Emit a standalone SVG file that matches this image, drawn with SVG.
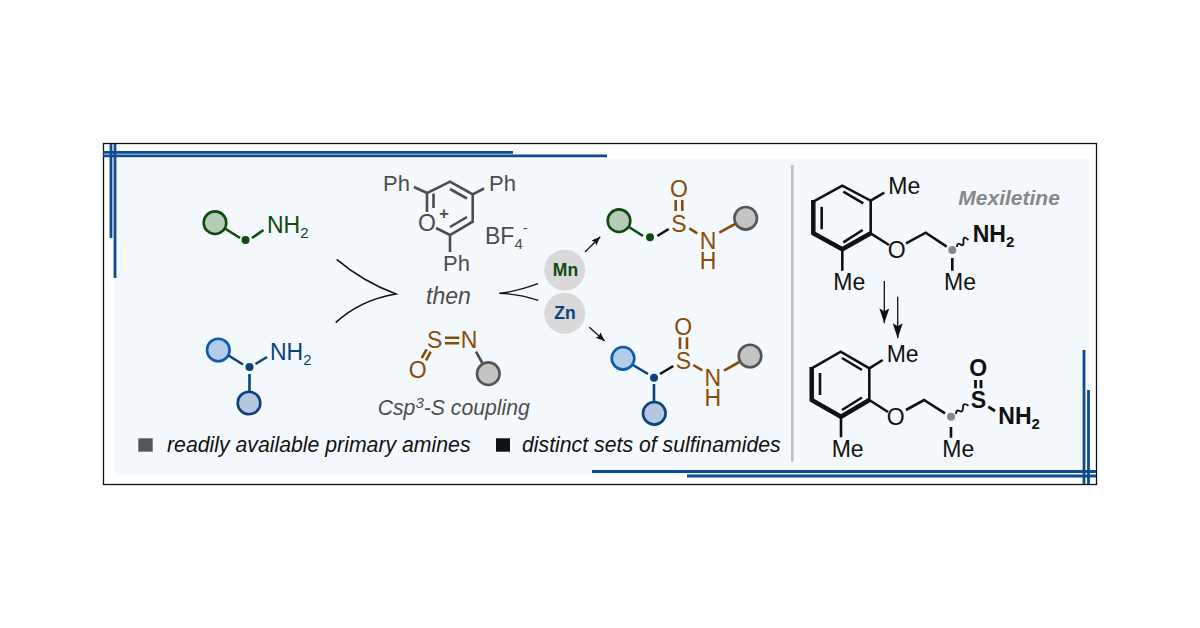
<svg xmlns="http://www.w3.org/2000/svg" width="1200" height="628" viewBox="0 0 1200 628">
<style>
text{font-family:"Liberation Sans",Arial,sans-serif;font-size:23px}
.b{fill:none;stroke-linecap:butt;stroke-width:2.600}
.g{stroke:#0f4a0f}.u{stroke:#0b417f}.r{stroke:#8a4b08}.k{stroke:#111}.y{stroke:#4d4d4d}
.tg{fill:#0f4a0f}.tu{fill:#0b417f}.tr{fill:#8a4b08}.tk{fill:#111}.ty{fill:#4d4d4d}
.m{text-anchor:middle}
.cg{fill:#b5cbb5;stroke:#0f4a0f;stroke-width:2.600}
.cb{fill:#b3cde9;stroke:#0b5cab;stroke-width:2.600}
.cu{fill:#b5c8de;stroke:#0b417f;stroke-width:2.600}
.cy{fill:#c4c4c4;stroke:#555;stroke-width:2.600}
.rule{stroke:#0f4a94;stroke-width:2.800;fill:none}
.sub{font-size:15px}
.bd{font-weight:bold}
.it{font-style:italic}
.bond{fill:none;stroke:#111;stroke-width:2.600}
.conn{fill:none;stroke:#111}
</style>
<defs>
<marker id="ah" markerUnits="userSpaceOnUse" markerWidth="14" markerHeight="12" refX="15" refY="5" orient="auto"><path d="M0 0L15 5L0 10L3 5Z" fill="#111"/></marker>
<marker id="ahs" markerUnits="userSpaceOnUse" markerWidth="10" markerHeight="8" refX="9" refY="3.500" orient="auto"><path d="M0 0L9 3.500L0 7L1.500 3.500Z" fill="#111"/></marker>
</defs>
<rect width="1200" height="628" fill="#fff"/>
<rect x="114" y="159" width="975" height="316" fill="#f4f9fe"/>
<rect x="103.500" y="143.500" width="993" height="341" fill="none" stroke="#111" stroke-width="1.300"/>
<g id="rules">
<path class="rule" d="M103 152.300H513M103 155.800H607M111 144V238M115 144V278M592 471.500H1096M687 476H1096M1084 350V484M1088.500 390V484"/>
<path d="M792.300 165V461.700" stroke="#bdbdbd" stroke-width="2.500" fill="none"/>
</g>
<g id="amine-green">
<circle class="cg" cx="215" cy="222.700" r="11.300"/>
<path class="b g" d="M225 228.500L240 238M252 238L263.500 230"/>
<circle cx="245.500" cy="240" r="4" fill="#0f4a0f"/>
<text class="tg" x="267" y="232.500">NH<tspan class="sub" dy="5">2</tspan></text>
</g>
<g id="amine-blue">
<circle class="cb" cx="218.300" cy="350" r="11.300"/>
<circle class="cu" cx="249" cy="403" r="11.300"/>
<path class="b u" d="M228.500 355.500L243 364.500M255.500 364L267 357M249.500 374V392"/>
<circle cx="249.500" cy="367" r="4" fill="#0b417f"/>
<text class="tu" x="270" y="359.500">NH<tspan class="sub" dy="5">2</tspan></text>
</g>
<g id="pyrylium">
<path class="b y" d="M427 212V193L450 181.700L472.700 194.300V221.700L450 235L436 228M433.500 208V193.500M450 189L467 198.500M467 217L450 227M427 193L414 187M472.700 194.300L484 188.500M450 235V252"/>
<text class="ty m" x="427" y="231">O</text>
<text class="ty m bd" x="444" y="219" style="font-size:17px">+</text>
<text class="ty" x="383" y="191" style="font-size:22px">Ph</text>
<text class="ty" x="489" y="191" style="font-size:22px">Ph</text>
<text class="ty" x="443" y="270.500" style="font-size:22px">Ph</text>
<text class="ty" x="485" y="244">BF<tspan class="sub" dy="5">4</tspan><tspan class="sub" dy="-16">-</tspan></text>
</g>
<text class="ty it" x="426" y="304">then</text>
<g id="sulfinylamine">
<path class="b r" d="M445 337.700H459.300M445 343.300H459.300M421.700 358L426.700 349.300M426 360.500L430.700 351.700"/>
<path class="b y" d="M476 351.700L482.300 363"/>
<circle class="cy" cx="488.300" cy="373.700" r="11.300"/>
<text class="tr m" x="434.700" y="348">S</text>
<text class="tr m" x="469" y="348">N</text>
<text class="tr m" x="417.700" y="377.700">O</text>
</g>
<text class="ty it" x="377.700" y="415" style="font-size:21.200px">Csp<tspan class="sub" dy="-7">3</tspan><tspan dy="7">-S coupling</tspan></text>
<g id="mn"><circle cx="564.700" cy="270" r="20.500" fill="#d9d9d9"/><text class="tg m bd" x="565.500" y="276" style="font-size:17.500px">Mn</text></g>
<g id="zn"><circle cx="564.700" cy="313.300" r="20.500" fill="#d9d9d9"/><text class="tu m bd" x="565" y="319" style="font-size:17.500px">Zn</text></g>
<g id="connectors">
<path class="conn" stroke-width="1.600" d="M336.700 259.300Q362 281 396 294Q360 300 335.700 322.700"/>
<path class="conn" stroke-width="1.400" d="M538 283.700Q515 292 499.300 293.300Q518 294 538.300 300.300"/>
<path class="conn" stroke-width="1.300" marker-end="url(#ahs)" d="M585 252L600.300 236.700"/>
<path class="conn" stroke-width="1.300" marker-end="url(#ahs)" d="M589.300 327.300L604.700 341"/>
<path class="conn" stroke-width="1.300" marker-end="url(#ah)" d="M884.300 281V323.300"/>
<path class="conn" stroke-width="1.300" marker-end="url(#ah)" d="M897.700 296.700V338.300"/>
</g>
<g id="product-green">
<circle class="cg" cx="619" cy="220.700" r="11.300"/>
<circle class="cy" cx="745.700" cy="218.300" r="11.300"/>
<path class="b g" d="M629 227L643 236"/>
<circle cx="650" cy="237.300" r="4" fill="#0f4a0f"/>
<path class="b k" d="M657.300 236L668.700 229"/>
<path class="b r" d="M675.700 200V211M682.300 200V211M689.300 228.300L697.300 233.300M719.300 232.700L735 224"/>
<text class="tr m" x="679" y="231.500">S</text>
<text class="tr m" x="679" y="197">O</text>
<text class="tr m"><tspan x="708" y="248.500">N</tspan><tspan x="708" y="268.500">H</tspan></text>
</g>
<g id="product-blue">
<circle class="cb" cx="623" cy="358.300" r="11.300"/>
<circle class="cu" cx="654.300" cy="413.300" r="11.300"/>
<circle class="cy" cx="750" cy="356" r="11.300"/>
<path class="b u" d="M633 365L648 374M654 384V402"/>
<circle cx="654" cy="377.700" r="4" fill="#0b417f"/>
<path class="b k" d="M660 374L673.300 366"/>
<path class="b r" d="M680 337.300V349M687 337.300V349M693.300 365L702.300 370.300M724 370.700L739.300 362"/>
<text class="tr m" x="683.300" y="369">S</text>
<text class="tr m" x="683.300" y="334.500">O</text>
<text class="tr m"><tspan x="712.700" y="385.700">N</tspan><tspan x="712.700" y="405.700">H</tspan></text>
</g>
<g id="legend">
<rect x="138.300" y="438.300" width="14.400" height="13.400" fill="#555"/>
<text class="tk it" x="167" y="451.700" style="font-size:21.250px">readily available primary amines</text>
<rect x="496" y="438.300" width="14" height="13.400" fill="#111"/>
<text class="tk it" x="522" y="451.700" style="font-size:21.250px">distinct sets of sulfinamides</text>
</g>
<text class="it bd" x="958.300" y="205" fill="#888" style="font-size:21px">Mexiletine</text>
<g id="mexiletine">
<path class="bond" d="M813.300 201.700L842.300 185.700L870.700 200.700V233.300M870.700 200.700L884.300 192.700M821.700 206.700V229.300M843.300 191.700L863.300 203.300M843.300 242.300L862.700 230M842.300 249.300V270.700M870.700 233.300L889 245M906 243.300L925.700 232.700L946.700 246.700M952.300 258V270.700"/>
<path fill="none" stroke="#111" stroke-width="4.500" stroke-linejoin="round" d="M813.300 200V233.300L842.300 249.300L870.700 233.300"/>
<path fill="none" stroke="#111" stroke-width="1.800" d="M957 247Q957 242 960.500 244.500T963.500 241T968.500 240"/>
<circle cx="952.300" cy="250" r="4" fill="#888"/>
<text class="tk" x="888.300" y="194.300">Me</text>
<text class="tk" x="833.300" y="290">Me</text>
<text class="tk m" x="896.700" y="258">O</text>
<text class="tk" x="944" y="290">Me</text>
<text class="tk bd" x="972.700" y="242.300">NH<tspan class="sub" dy="5">2</tspan></text>
</g>
<g id="sulfinamide">
<path class="bond" d="M811.700 368.300L840.700 351.700L869.300 368.300V400M869.300 368.300L882.700 360M820 373V395M842 358L862 370M842 410L862 397.500M841 416.700V437.300M869.300 400L888 412M906 410L924 400L945 413.300M951 427V437.700"/>
<path fill="none" stroke="#111" stroke-width="4.500" stroke-linejoin="round" d="M811.700 367V400L841 416.700L869.300 400"/>
<path fill="none" stroke="#111" stroke-width="1.800" d="M956 414Q956 409 959.500 411T963 407.500T968.500 405.700"/>
<path fill="none" stroke="#111" stroke-width="2.800" d="M975.500 380V388.300M981 380V388.300M988.300 406.700L995 411"/>
<circle cx="951" cy="416.700" r="4" fill="#888"/>
<text class="tk" x="886.700" y="361.700">Me</text>
<text class="tk" x="831.700" y="456.700">Me</text>
<text class="tk m" x="895.700" y="425">O</text>
<text class="tk" x="942.300" y="456.700">Me</text>
<text class="tk m bd" x="978.300" y="408.300">S</text>
<text class="tk m bd" x="978.300" y="375.700">O</text>
<text class="tk bd" x="998.300" y="424.300">NH<tspan class="sub" dy="5">2</tspan></text>
</g>
</svg>
